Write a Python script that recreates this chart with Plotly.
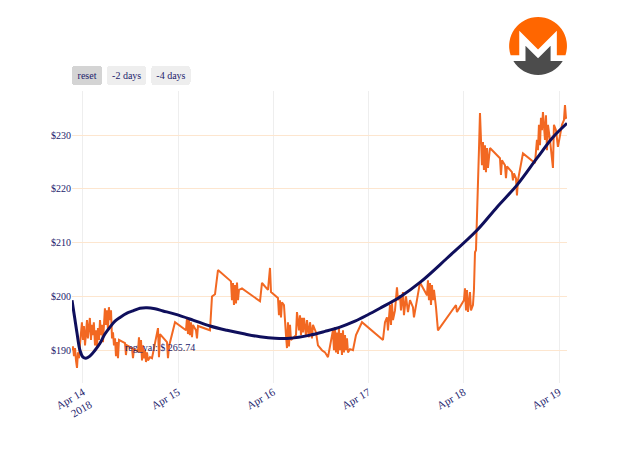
import base64
import pandas as pd
import plotly.graph_objects as go

START = pd.Timestamp("2018-04-13 21:15")

# XMR price (USD): hours since START, price
price_hours = [
    0.0, 0.25, 0.5, 0.76, 1.0, 1.26, 1.5, 1.76, 2.0, 2.27, 2.5, 2.77, 3.0, 3.28, 3.5, 3.78,
    4.0, 4.28, 4.5, 4.79, 5.0, 5.29, 5.5, 5.8, 6.05, 6.3, 6.55, 6.8, 7.06, 7.3, 7.56, 7.8,
    8.06, 8.3, 8.57, 8.8, 9.07, 9.3, 9.58, 9.83, 10.08, 10.33, 10.58, 10.84, 11.09, 11.34,
    11.59, 11.84, 13.36, 13.6, 13.86, 15.12, 15.37, 15.62, 16.63, 16.88, 17.14, 17.39,
    17.64, 17.89, 18.14, 18.4, 18.65, 18.9, 19.15, 19.66,
    20.16, 21.67, 21.92, 22.18, 23.94, 24.19, 24.44, 25.96, 28.73, 28.98, 29.23, 29.48,
    29.74, 29.99, 30.24, 30.49, 31.25, 31.5, 31.75, 34.78, 35.28, 36.04, 36.79,
    40.07, 40.32, 40.57, 40.82, 41.08, 41.33, 41.58, 41.83, 42.08, 42.84, 47.38, 47.88,
    49.39, 49.9, 50.15, 51.91, 52.16, 52.42, 52.67, 52.92, 53.42, 53.93, 54.18, 54.43,
    54.68, 54.94, 55.19, 56.45, 56.7,
    57.2, 57.46, 57.71, 57.96, 58.21, 58.46, 58.97, 59.22, 59.72, 59.98, 60.48, 60.73,
    61.49, 61.99, 63.0, 63.76, 64.51, 65.02, 65.77, 66.02, 66.28, 66.53, 66.78, 67.03,
    67.28, 67.54, 67.79, 68.04, 68.29, 68.54, 68.8, 69.05, 69.3, 69.55, 70.06, 70.81,
    71.57, 73.08, 78.37, 78.88, 79.38, 79.63, 80.14, 80.39, 80.64, 80.89, 81.4, 81.9,
    82.15, 82.66, 82.91, 83.41, 83.66, 84.17, 84.67, 85.18, 85.93, 86.18, 86.69, 87.7,
    89.46, 89.71, 89.96, 90.22, 90.47, 90.72, 90.97, 91.22, 91.73, 92.23, 96.77, 97.02,
    98.78, 99.04, 99.29, 99.54, 99.79, 100.3, 100.55, 101.05, 101.3, 101.56, 101.81,
    102.06, 102.31, 102.56, 102.82, 103.07, 103.32, 103.57, 103.82, 104.08, 104.33,
    104.58, 104.83, 105.34, 107.86, 108.11, 108.36, 109.12, 109.37, 109.62, 110.88,
    111.13, 111.38, 111.89, 112.14, 112.39, 113.65, 116.68, 117.18, 117.43, 117.68,
    117.94, 118.19, 118.44, 118.69, 119.2, 119.45, 119.7, 119.95, 120.46, 121.21,
    121.46, 121.97, 122.47, 123.48, 123.98, 124.24, 124.49, 124.75,
]
price_usd = [
    190.0, 190.7, 188.9, 190.4, 188.1, 186.7, 189.6, 188.5, 190.9, 193.7, 195.2, 191.9,
    194.5, 190.9, 194.1, 195.6, 192.2, 194.3, 196.0, 191.9, 194.7, 192.8, 195.2, 190.9,
    193.7, 190.4, 194.1, 191.9, 195.6, 192.8, 194.7, 191.5, 196.5, 197.8, 194.7, 197.4,
    193.7, 198.0, 195.6, 197.4, 192.2, 193.3, 190.9, 192.2, 188.9, 191.5, 188.5, 191.9,
    191.3, 189.1, 190.9, 190.4, 188.5, 190.2, 189.8, 192.4, 189.6, 191.9, 188.1, 190.9,
    188.5, 190.0, 187.8, 189.6, 188.1, 188.7,
    188.5, 194.1, 188.7, 193.0, 191.5, 188.5, 190.7, 195.2, 193.7, 196.0, 193.0, 195.6,
    192.8, 195.2, 192.4, 194.7, 193.7, 192.2, 194.5, 193.7, 200.0, 200.4, 204.9,
    202.8, 199.3, 202.5, 198.4, 202.1, 198.7, 202.6, 199.3, 201.2, 201.5, 199.1, 202.5,
    201.2, 205.3, 200.8, 199.7, 196.5, 199.3, 196.1, 198.9, 198.4, 192.8, 190.4, 195.2,
    190.7, 194.7, 191.9, 192.8, 197.1,
    193.7, 196.5, 192.8, 196.0, 193.3, 196.0, 192.6, 195.6, 192.4, 195.2, 192.2, 194.7,
    193.3, 190.9, 190.0, 189.6, 188.7, 190.9, 193.7, 190.0, 194.3, 189.6, 193.3, 189.3,
    194.1, 190.0, 193.2, 189.1, 193.7, 189.6, 192.8, 190.0, 192.2, 189.6, 190.2, 190.0,
    192.8, 195.2, 191.9, 195.2, 196.1, 193.7, 198.4, 194.7, 198.7, 195.6, 197.4, 201.7,
    199.3, 200.2, 197.4, 200.8, 196.5, 200.0, 197.1, 199.3, 198.0, 196.1, 198.4, 202.6,
    200.2, 203.0, 199.3, 202.5, 198.4, 202.1, 199.3, 201.2, 198.0, 193.7, 198.4, 197.1,
    199.3, 201.5, 197.4, 201.2, 197.1, 200.8, 197.4, 198.4, 201.2, 208.2, 208.6,
    216.4, 225.0, 227.2, 234.1, 229.1, 224.4, 228.7, 223.5, 228.1, 223.1,
    227.6, 223.9, 227.6, 225.7, 222.6, 225.3, 224.4, 222.0, 224.2, 223.1,
    221.6, 222.9, 222.0, 218.8, 221.6, 226.6, 224.8, 229.1, 227.2, 231.9,
    228.1, 233.2, 230.9, 234.3, 229.1, 233.7, 227.2, 231.9, 229.1, 223.9,
    231.9, 230.9, 227.8, 231.9, 232.8, 235.6, 233.2, 233.3,
]

# Polynomial regression curve
reg_hours = [
    0.0, 0.76, 1.26, 2.0, 2.77, 3.5, 4.5, 5.8, 7.06, 8.3, 9.58, 10.84, 12.1, 13.86,
    15.37, 17.14, 18.9, 20.92, 22.93, 25.96, 30.49, 34.78, 39.06, 43.6, 47.38, 51.16,
    54.94, 59.98, 63.76, 67.54, 71.32, 74.34, 77.62, 82.66, 87.7, 94.5, 102.06, 107.1,
    112.14, 117.18, 121.21, 124.75,
]
reg_usd = [
    199.3, 195.6, 193.2, 190.0, 188.7, 188.5, 188.9, 190.0, 191.3, 193.0, 194.3, 195.4,
    196.1, 196.9, 197.3, 197.8, 197.9, 197.7, 197.3, 196.7, 195.6, 194.5, 193.7, 193.0,
    192.5, 192.2, 192.2, 192.8, 193.5, 194.3, 195.4, 196.5, 197.8, 199.9, 202.6, 207.1,
    212.3, 216.6, 220.7, 225.7, 229.6, 232.2,
]

reg_label = "reg_val: $ 265.74"
button_labels = ["reset", "-2 days", "-4 days"]

NAVY = "#1c1c6c"
FONT = "Liberation Serif, Times New Roman, serif"

price_x = START + pd.to_timedelta(price_hours, unit="h")
reg_x = START + pd.to_timedelta(reg_hours, unit="h")

fig = go.Figure()
fig.add_trace(go.Scatter(x=price_x, y=price_usd, mode="lines",
                         line=dict(color="#f26822", width=2), name="XMR"))
fig.add_trace(go.Scatter(x=reg_x, y=reg_usd, mode="lines",
                         line=dict(color="#0f0f5c", width=3, shape="spline"),
                         name="regression"))

logo_svg = (
    '<svg xmlns="http://www.w3.org/2000/svg" viewBox="0 0 100 100">'
    '<circle cx="50" cy="50" r="50" fill="#ffffff"/>'
    '<path d="M2.6,65.8 A50,50 0 1 1 97.4,65.8 H82.5 V23.7 L50,56.2 L17.5,23.7 V65.8 Z" fill="#ff6600"/>'
    '<path d="M42.5,63.7 L28.3,49.5 V76 H7.3 A50,50 0 0 0 92.7,76 H71.7 V49.5 L57.5,63.7 L50,71.2 Z" fill="#4c4c4c"/>'
    '</svg>'
)
logo_uri = "data:image/svg+xml;base64," + base64.b64encode(logo_svg.encode()).decode()

fig.update_layout(
    width=640, height=457,
    margin=dict(l=72, r=73, t=91, b=74),
    paper_bgcolor="white", plot_bgcolor="white",
    font=dict(family=FONT, size=10, color=NAVY),
    showlegend=False,
    xaxis=dict(
        showgrid=True, gridcolor="#eeeeee", zeroline=False, showline=False,
        tickangle=-30, tickfont=dict(size=11),
        rangeselector=dict(
            buttons=[
                dict(label=button_labels[0], step="all"),
                dict(label=button_labels[1], count=2, step="day", stepmode="backward"),
                dict(label=button_labels[2], count=4, step="day", stepmode="backward"),
            ],
            font=dict(family=FONT, size=10, color=NAVY),
        ),
    ),
    yaxis=dict(
        showgrid=True, gridcolor="#fde6cf", zeroline=False, showline=False,
        tickprefix="$", range=[183.9, 238.2], dtick=10,
    ),
    annotations=[dict(
        text=reg_label, xref="paper", yref="paper", x=0.177, y=0.123,
        xanchor="center", yanchor="middle",
        showarrow=False, font=dict(family=FONT, size=10, color=NAVY),
    )],
    images=[dict(
        source=logo_uri, xref="paper", yref="paper",
        x=1.0, y=1.253, sizex=0.117, sizey=0.198,
        xanchor="right", yanchor="top", sizing="contain", layer="above",
    )],
)

fig.write_html("out.html")
